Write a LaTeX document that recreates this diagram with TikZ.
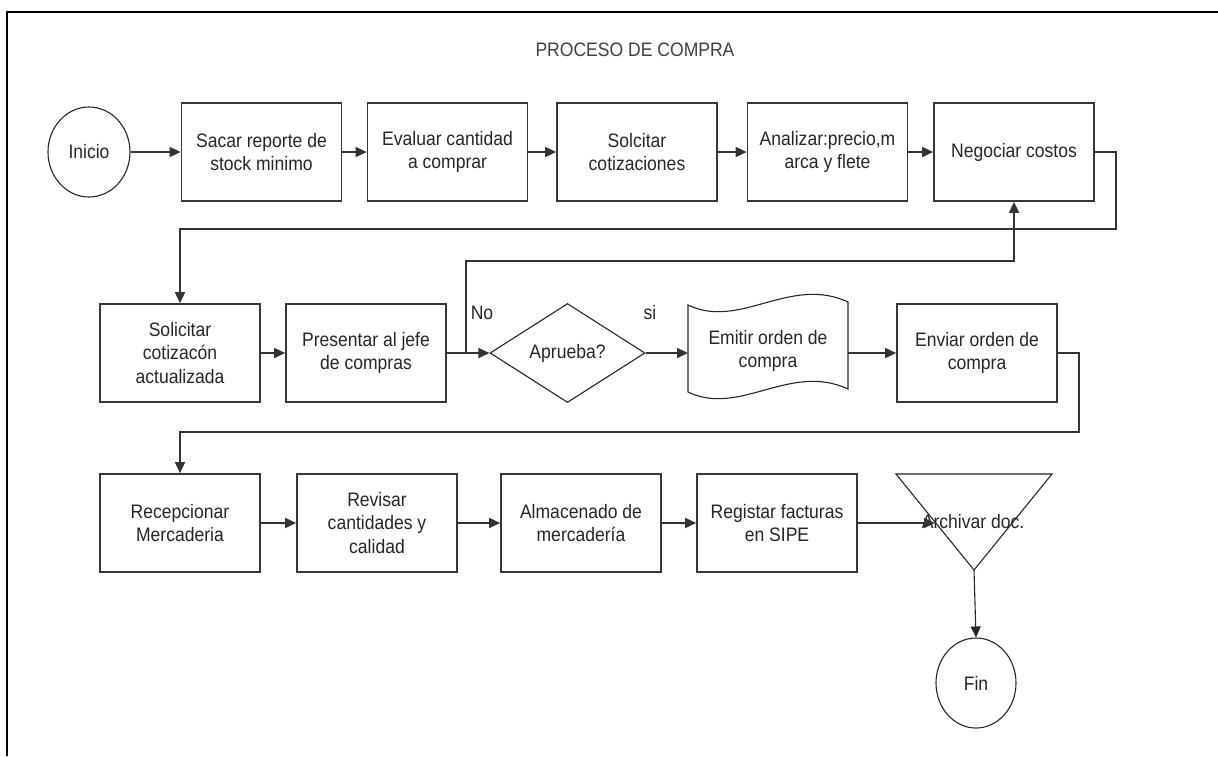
\documentclass[tikz,border=0pt]{standalone}
\usepackage{fontspec}
\setmainfont[FakeStretch=0.9]{Liberation Sans}
\usetikzlibrary{arrows.meta,shapes.geometric}
\newcommand{\flowfont}{\fontsize{19.5pt}{23.5pt}\selectfont}
\begin{document}
\begin{tikzpicture}[x=1pt,y=-1pt,
  box/.style={draw=black!78, line width=1.7pt, rectangle, minimum width=160pt, minimum height=98pt, align=center, font=\flowfont, text=black!85, inner sep=2pt},
  oval/.style={draw=black!85, line width=1.1pt, ellipse, minimum width=82pt, minimum height=90pt, inner sep=0pt, font=\flowfont, text=black!85},
  thin/.style={draw=black!85, line width=1.1pt},
  plain/.style={align=center, font=\flowfont, text=black!85, inner sep=0pt},
  arr/.style={draw=black!80, line width=1.7pt, -{Triangle[length=11pt,width=10pt]}},
  arrthin/.style={draw=black!85, line width=1.1pt, -{Triangle[length=11pt,width=10pt]}}]
\useasboundingbox (0,0) rectangle (1218,756);
% frame
\draw[line width=2.4pt, black] (7,756) -- (7,12) -- (1218,12);
% title
\node[plain, text=black!75] (title) at (635,50) {PROCESO DE COMPRA};
% row 1
\node[oval] (ini) at (89,152) {Inicio};
\node[box] (b1) at (261.5,152) {Sacar reporte de\\stock minimo};
\node[box] (b2) at (447.5,152) {Evaluar cantidad\\a comprar};
\node[box] (b3) at (637,152) {Solcitar\\cotizaciones};
\node[box] (b4) at (827.5,152) {Analizar:precio,m\\arca y flete};
\node[box] (b5) at (1014,152) {Negociar costos};
% row 2
\node[box] (b6) at (180,353) {Solicitar\\cotizacón\\actualizada};
\node[box] (b7) at (366,353) {Presentar al jefe\\de compras};
\node[thin, diamond, minimum width=155pt, minimum height=99pt, inner sep=0pt, font=\flowfont, text=black!85] (dia) at (567.5,353) {Aprueba?};
\node[plain, minimum width=160pt, minimum height=87pt] (em) at (768,351) {Emitir orden de\\compra};
\draw[thin] (688,305) .. controls (740,330) and (790,275) .. (848,302)
  -- (848,389) .. controls (790,362) and (740,417) .. (688,392) -- cycle;
\node[box] (b8) at (977,353) {Enviar orden de\\compra};
\node[plain] (no) at (482,313) {No};
\node[plain] (si) at (650,313) {si};
% row 3
\node[box] (b9) at (180,523) {Recepcionar\\Mercaderia};
\node[box] (b10) at (377,523) {Revisar\\cantidades y\\calidad};
\node[box] (b11) at (581,523) {Almacenado de\\mercadería};
\node[box] (b12) at (777,523) {Registar facturas\\en SIPE};
\draw[thin] (896,474) -- (1052,474) -- (974,570) -- cycle;
\coordinate (arin) at (935,523);
\coordinate (tip) at (974,570);
\node[plain] (arch) at (973,522) {Archivar doc.};
\node[oval, minimum width=80pt] (fin) at (976,683) {Fin};
% connectors row 1
\draw[arr] (ini) -- (b1);
\draw[arr] (b1) -- (b2);
\draw[arr] (b2) -- (b3);
\draw[arr] (b3) -- (b4);
\draw[arr] (b4) -- (b5);
\draw[arr] (b5.east) -| ++(21,77) -| (b6.north);
% row 2
\draw[arr] (b6) -- (b7);
\draw[arr] (b7) -- (dia);
\coordinate (nj) at (466,353);
\draw[arr] (nj) -- ++(0,-92) -| (b5.south);
\draw[arr] (dia.east) -- (688,353);
\draw[arr] (848,353) -- (b8.west);
\draw[arr] (b8.east) -| ++(21,79) -| (b9.north);
% row 3
\draw[arr] (b9) -- (b10);
\draw[arr] (b10) -- (b11);
\draw[arr] (b11) -- (b12);
\draw[arr] (b12.east) -- (arin);
\draw[arrthin] (tip) -- (fin.north);
\end{tikzpicture}
\end{document}
